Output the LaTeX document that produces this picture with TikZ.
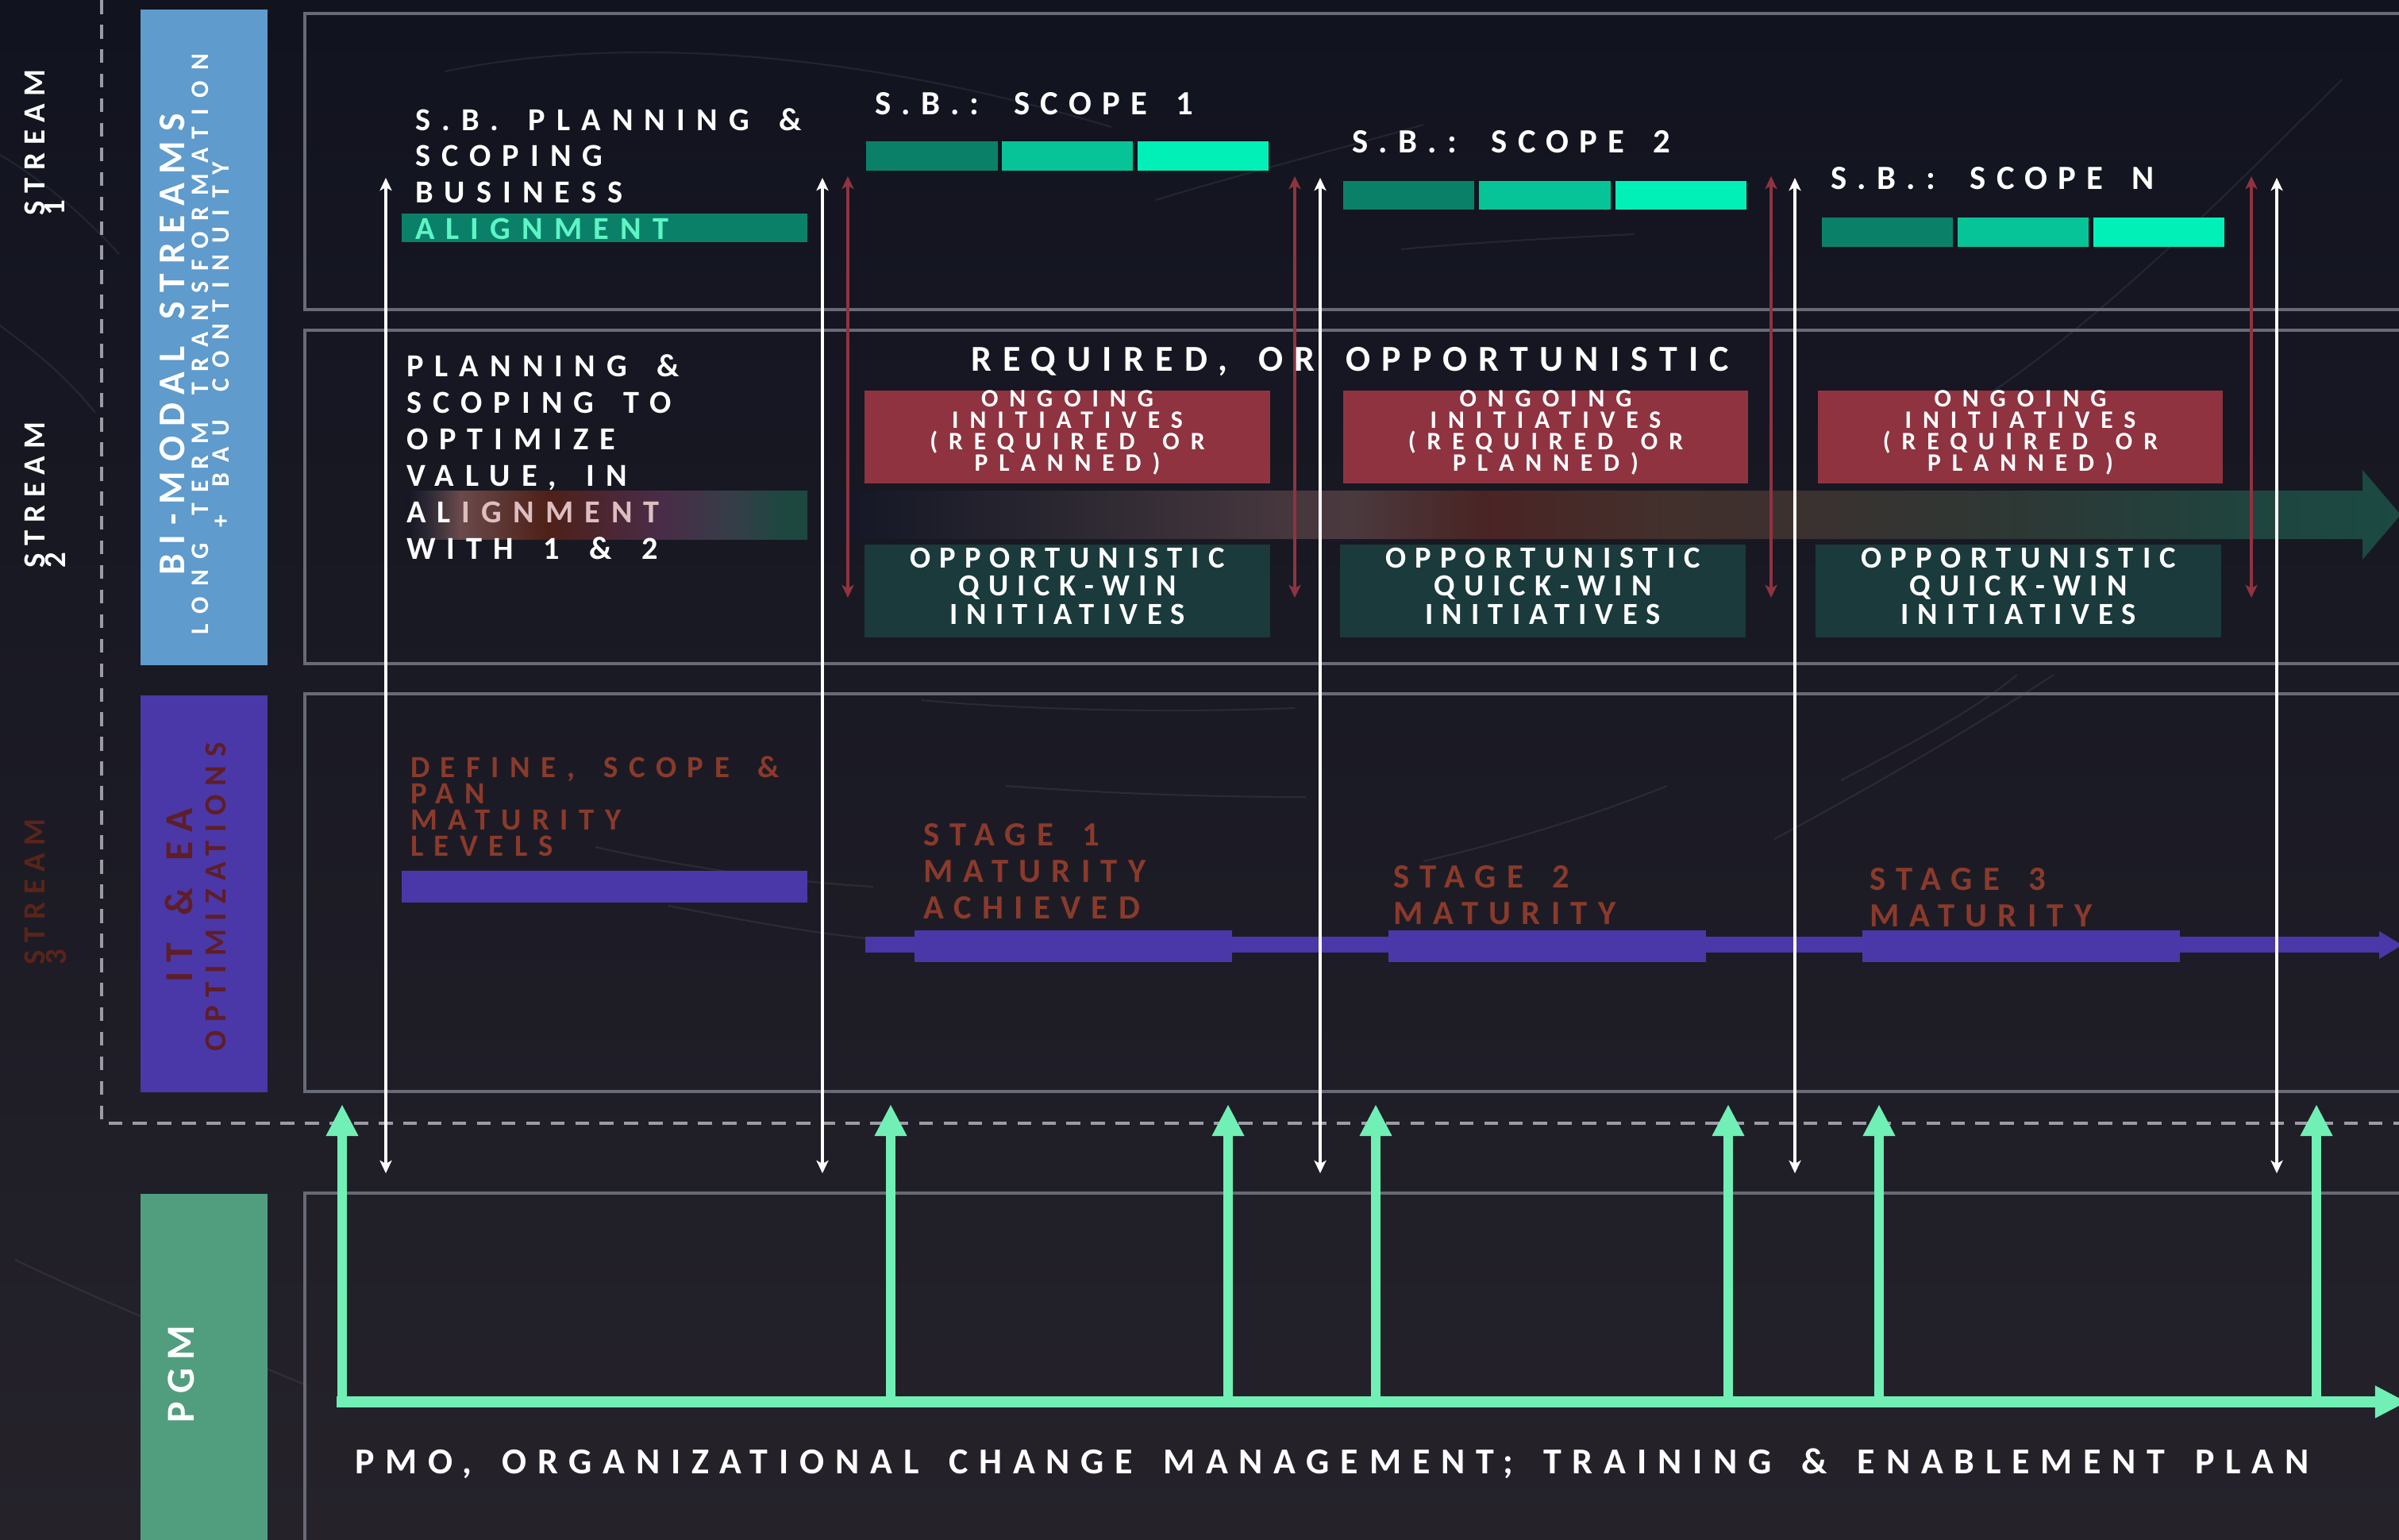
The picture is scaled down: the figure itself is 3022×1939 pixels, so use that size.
\documentclass[tikz,border=0pt]{standalone}
\usepackage{fontspec}
\setmainfont{Carlito}
\usetikzlibrary{arrows.meta}

% palette
\definecolor{bgtop}{HTML}{11131F}
\definecolor{bgmid}{HTML}{171925}
\definecolor{bgbot}{HTML}{25222A}
\definecolor{panelgray}{HTML}{686B75}
\definecolor{dashgray}{HTML}{9A9CA4}
\definecolor{bimodal}{HTML}{5F9BCC}
\definecolor{itea}{HTML}{4A38A8}
\definecolor{pgmgreen}{HTML}{519E7E}
\definecolor{iteatext}{HTML}{5E1E26}
\definecolor{rust}{HTML}{8A3A2B}
\definecolor{streamthree}{HTML}{5A2419}
\definecolor{ongred}{HTML}{8F3340}
\definecolor{oppteal}{HTML}{1A3A3B}
\definecolor{mint}{HTML}{70F0B4}
\definecolor{minttext}{HTML}{5EF5C5}
\definecolor{mauve}{HTML}{DDBEC0}
\definecolor{scopeA}{HTML}{0B8068}
\definecolor{scopeB}{HTML}{07C498}
\definecolor{scopeC}{HTML}{00F0B8}
\definecolor{purplebar}{HTML}{4A38A8}
% glow behind the stream-2 "alignment" word
\definecolor{gA0}{HTML}{141621}
\definecolor{gA1}{HTML}{2E2A36}
\definecolor{gA2}{HTML}{6A4A4A}
\definecolor{gA3}{HTML}{4E2018}
\definecolor{gA4}{HTML}{4A2C48}
\definecolor{gA5}{HTML}{363D48}
\definecolor{gA6}{HTML}{1C4840}
% flow arrow across stream 2
\definecolor{gB0}{HTML}{151726}
\definecolor{gB1}{HTML}{27252F}
\definecolor{gB2}{HTML}{45363D}
\definecolor{gB3}{HTML}{4A3A3E}
\definecolor{gB4}{HTML}{4A2424}
\definecolor{gB5}{HTML}{42302C}
\definecolor{gB6}{HTML}{3E302E}
\definecolor{gB7}{HTML}{2D3835}
\definecolor{gB8}{HTML}{1E4640}
\definecolor{gB9}{HTML}{1B4A42}

\pgfdeclarehorizontalshading{alignglow}{100bp}{%
  color(0bp)=(gA0); color(25bp)=(gA0); color(27.8bp)=(gA1);
  color(31.7bp)=(gA2); color(42.6bp)=(gA3); color(56.5bp)=(gA4);
  color(65.4bp)=(gA5); color(72.3bp)=(gA6); color(75bp)=(gA6);
  color(100bp)=(gA6)}
\pgfdeclarehorizontalshading{flowglow}{100bp}{%
  color(0bp)=(gB0); color(25bp)=(gB0); color(31.1bp)=(gB1);
  color(38.7bp)=(gB2); color(41.3bp)=(gB3); color(45.6bp)=(gB4);
  color(51.5bp)=(gB5); color(54.3bp)=(gB6); color(62.7bp)=(gB7);
  color(71.3bp)=(gB8); color(75bp)=(gB9); color(100bp)=(gB9)}

% tracking: letter spacing plus the same extra on word spaces
\newcommand\ls[1]{\addfontfeature{LetterSpace=#1}%
  \spaceskip=\dimexpr\fontdimen2\font+#1\fontdimen6\font/100\relax}
\newcommand\fsz[2]{\fontsize{#1}{#2}\selectfont}
% top-aligned block of lines: width, alignment, text
\newcommand\blk[3]{\parbox[t]{#1}{\selectfont\lineskiplimit=-50pt\relax#2#3}}

\begin{document}
\begin{tikzpicture}[x=0.01cm, y=-0.01cm,
  panel/.style={draw=panelgray, line width=0.9pt},
  griddash/.style={draw=dashgray, line width=0.9pt, dash pattern=on 5pt off 3.8pt},
  lbl/.style={inner sep=0pt, outer sep=0pt},
  wharrow/.style={draw=white, line width=1.2pt,
    {Stealth[length=4.6pt,width=4.3pt,inset=1.2pt]}-{Stealth[length=4.6pt,width=4.3pt,inset=1.2pt]}},
  rdarrow/.style={draw=ongred, line width=1.1pt,
    {Stealth[length=4.6pt,width=4.3pt,inset=1.2pt]}-{Stealth[length=4.6pt,width=4.3pt,inset=1.2pt]}},
  mintarrow/.style={draw=mint, line width=3.6pt, -{Triangle[length=11.4pt,width=10.8pt]}},
  streak/.style={draw=white, opacity=0.07, line width=0.6pt},
  headtext/.style={lbl, anchor=base west, font=\bfseries\fsz{11.47pt}{13.09pt}\ls{35}},
]
\useasboundingbox (0,0) rectangle (3022,1939);
\clip (0,0) rectangle (3022,1939);

% background
\shade[top color=bgtop, middle color=bgmid, bottom color=bgbot] (0,0) rectangle (3022,1939);
\draw[streak] (0,195) .. controls (50,225) and (100,265) .. (150,320);
\draw[streak] (0,410) .. controls (40,440) and (80,470) .. (120,520);
\draw[streak] (560,90) .. controls (800,40) and (1100,70) .. (1400,160);
\draw[streak] (1456,252) .. controls (1560,220) and (1680,190) .. (1793,157);
\draw[streak] (1765,314) .. controls (1860,305) and (1960,300) .. (2059,295);
\draw[streak] (1558,670) .. controls (1640,660) and (1720,650) .. (1780,643);
\draw[streak] (2319,983) .. controls (2400,940) and (2480,900) .. (2541,850);
\draw[streak] (2235,1057) .. controls (2360,990) and (2480,920) .. (2587,850);
\draw[streak] (750,1067) .. controls (850,1090) and (980,1110) .. (1100,1117);
\draw[streak] (842,1141) .. controls (940,1160) and (1020,1175) .. (1100,1183);
\draw[streak] (19,1587) .. controls (150,1650) and (280,1700) .. (383,1744);
\draw[streak] (1161,882) .. controls (1300,895) and (1480,898) .. (1631,892);
\draw[streak] (1267,990) .. controls (1400,1000) and (1530,1004) .. (1645,1004);
\draw[streak] (1793,1085) .. controls (1900,1060) and (2000,1030) .. (2100,990);
\draw[streak] (2500,500) .. controls (2650,400) and (2800,250) .. (2950,100);

% stream frame
\draw[griddash] (128,0) -- (128,1415) -- (3022,1415);

% lane panels
\draw[panel] (384,17) rectangle (3100,390);
\draw[panel] (384,416) rectangle (3100,836);
\draw[panel] (384,874) rectangle (3100,1375);
\draw[panel] (384,1503) rectangle (3100,2000);

% side captions
\fill[bimodal] (177,12) rectangle (337,838);
\fill[itea] (177,876) rectangle (337,1376);
\fill[pgmgreen] (177,1504) rectangle (337,1945);

\node[lbl, rotate=90, anchor=base west, text=white, font=\bfseries\fsz{11.03pt}{11pt}\ls{25}] (s1a) at (56,271) {STREAM};
\node[lbl, rotate=90, anchor=base west, text=white, font=\bfseries\fsz{11.03pt}{11pt}\ls{25}] (s1b) at (81,271) {1};
\node[lbl, rotate=90, anchor=base west, text=white, font=\bfseries\fsz{11.03pt}{11pt}\ls{25}] (s2a) at (56,715) {STREAM};
\node[lbl, rotate=90, anchor=base west, text=white, font=\bfseries\fsz{11.03pt}{11pt}\ls{25}] (s2b) at (82,715) {2};
\node[lbl, rotate=90, anchor=base west, text=streamthree, font=\bfseries\fsz{11.03pt}{11pt}\ls{25}] (s3a) at (56,1215) {STREAM};
\node[lbl, rotate=90, anchor=base west, text=streamthree, font=\bfseries\fsz{11.03pt}{11pt}\ls{25}] (s3b) at (83,1215) {3};

\node[lbl, rotate=90, anchor=base, text=white, font=\bfseries\fsz{13.5pt}{14pt}\ls{25}] (bm1) at (232,434) {BI-MODAL STREAMS};
\node[lbl, rotate=90, anchor=base, text=white, font=\bfseries\fsz{9pt}{10pt}\ls{43}] (bm2) at (262,434) {LONG TERM TRANSFORMATION};
\node[lbl, rotate=90, anchor=base, text=white, font=\bfseries\fsz{9pt}{10pt}\ls{44}] (bm3) at (288,434) {+ BAU CONTINUITY};

\node[lbl, rotate=90, anchor=base, text=iteatext, font=\bfseries\fsz{14.2pt}{15pt}\ls{23}] (it1) at (242,1128) {IT \& EA};
\node[lbl, rotate=90, anchor=base, text=iteatext, font=\bfseries\fsz{11.03pt}{12pt}\ls{28}] (it2) at (284,1130) {OPTIMIZATIONS};

\node[lbl, rotate=90, anchor=base, text=white, font=\bfseries\fsz{14.2pt}{15pt}\ls{20}] (pgm) at (244,1731) {PGM};

% ---- stream 1 : business scoping
\fill[scopeA] (506,269) rectangle (1017,305);
\node[headtext, text=white, font=\bfseries\fsz{11.47pt}{13.05pt}\ls{35}] (sbplan) at (523,164)
  {\blk{6cm}{\raggedright}{S.B. PLANNING \&\\SCOPING\\BUSINESS\\\textcolor{minttext}{ALIGNMENT}}};

\fill[scopeA] (1091,178) rectangle (1257,215);
\fill[scopeB] (1262,178) rectangle (1427,215);
\fill[scopeC] (1433,178) rectangle (1598,215);
\fill[scopeA] (1692,228) rectangle (1857,264);
\fill[scopeB] (1863,228) rectangle (2029,264);
\fill[scopeC] (2035,228) rectangle (2200,264);
\fill[scopeA] (2295,274) rectangle (2460,311);
\fill[scopeB] (2466,274) rectangle (2631,311);
\fill[scopeC] (2637,274) rectangle (2802,311);

\node[lbl, anchor=base west, text=white, font=\bfseries\fsz{12.15pt}{14pt}\ls{31}] (sc1) at (1102,144) {S.B.: SCOPE 1};
\node[lbl, anchor=base west, text=white, font=\bfseries\fsz{12.15pt}{14pt}\ls{31}] (sc2) at (1703,192) {S.B.: SCOPE 2};
\node[lbl, anchor=base west, text=white, font=\bfseries\fsz{12.15pt}{14pt}\ls{31}] (scn) at (2306,238) {S.B.: SCOPE N};

% ---- stream 2 : required or opportunistic initiatives
\shade[shading=alignglow] (512,618) rectangle (1017,679);
\shade[shading=flowglow] (1060,618) -- (2976,618) -- (2976,592) -- (3024,648.5)
  -- (2976,705) -- (2976,679) -- (1060,679) -- cycle;

\node[headtext, text=white] (optplan) at (512,474)
  {\blk{6cm}{\raggedright}{PLANNING \&\\SCOPING TO\\OPTIMIZE\\VALUE, IN\\\mbox{}\\WITH 1 \& 2}};
% the highlighted word: bright at its start, fading into the glow
\node[headtext, text=white] (optplanAL) at (512,658) {AL};
\node[headtext, text=mauve, xshift=4pt] (optplanIG) at (optplanAL.base east) {IGNMENT};

\foreach \i/\xa/\xb in {1/1089/1600, 2/1692/2202, 3/2290/2800}{
  \fill[ongred] (\xa,492) rectangle (\xb,609);
  \node[lbl, anchor=base, text=white, font=\bfseries\fsz{9pt}{7.68pt}\ls{44}] (ong\i) at ({(\xa+\xb)/2},512)
    {\blk{5cm}{\centering}{ONGOING\\INITIATIVES\\(REQUIRED OR\\PLANNED)}};
}
\foreach \i/\xa/\xb in {1/1089/1600, 2/1688/2199, 3/2287/2798}{
  \fill[oppteal] (\xa,686) rectangle (\xb,803);
  \node[lbl, anchor=base, text=white, font=\bfseries\fsz{10.98pt}{10.1pt}\ls{29}] (opp\i) at ({(\xa+\xb)/2},715)
    {\blk{5cm}{\centering}{OPPORTUNISTIC\\QUICK-WIN\\INITIATIVES}};
}

% ---- stream 3 : maturity track
\fill[purplebar] (506,1097) rectangle (1017,1137);
\fill[purplebar] (1090,1180) rectangle (2997,1200);
\fill[purplebar] (2997,1173) -- (3026,1190.5) -- (2997,1208) -- cycle;
\fill[purplebar] (1152,1172) rectangle (1552,1212);
\fill[purplebar] (1749,1172) rectangle (2149,1212);
\fill[purplebar] (2346,1172) rectangle (2746,1212);

\node[lbl, anchor=base west, text=rust, font=\bfseries\fsz{11.03pt}{9.39pt}\ls{35}] (define) at (517,979)
  {\blk{6cm}{\raggedright}{DEFINE, SCOPE \&\\PAN\\MATURITY\\LEVELS}};
\node[lbl, anchor=base west, text=rust, font=\bfseries\fsz{12.15pt}{13.2pt}\ls{31}] (stage1) at (1163,1065)
  {\blk{5cm}{\raggedright}{STAGE 1\\MATURITY\\ACHIEVED}};
\node[lbl, anchor=base west, text=rust, font=\bfseries\fsz{12.15pt}{13.2pt}\ls{31}] (stage2) at (1755,1118)
  {\blk{5cm}{\raggedright}{STAGE 2\\MATURITY}};
\node[lbl, anchor=base west, text=rust, font=\bfseries\fsz{12.15pt}{13.2pt}\ls{31}] (stage3) at (2355,1121)
  {\blk{5cm}{\raggedright}{STAGE 3\\MATURITY}};

% scope windows
\foreach \i/\x in {1/1068, 2/1631, 3/2231, 4/2836}{
  \coordinate (rt\i) at (\x,222);
  \coordinate (rb\i) at (\x,753);
  \draw[rdarrow] (rt\i) -- (rb\i);
}

\node[lbl, anchor=base west, text=white, font=\bfseries\fsz{13.06pt}{15pt}\ls{31}] (reqopp) at (1223,467) {REQUIRED, OR OPPORTUNISTIC};

% phase boundaries
\foreach \i/\x in {1/486, 2/1036, 3/1663, 4/2261, 5/2868}{
  \coordinate (wt\i) at (\x,224);
  \coordinate (wb\i) at (\x,1478);
  \draw[wharrow] (wt\i) -- (wb\i);
}

% ---- PGM : programme support feeding every phase
\coordinate (pgmstart) at (424,1766);
\coordinate (pgmend) at (3032,1766);
\draw[mintarrow, line width=4pt] (pgmstart) -- (pgmend);
\foreach \i/\x in {1/431, 2/1122, 3/1547, 4/1733, 5/2177, 6/2367, 7/2918}{
  \coordinate (gb\i) at (\x,1773);
  \coordinate (gt\i) at (\x,1391);
  \draw[mintarrow] (gb\i) -- (gt\i);
}

\node[lbl, anchor=base west, text=white, font=\bfseries\fsz{13.06pt}{15pt}\ls{30}] (pmo) at (447,1856)
  {PMO, ORGANIZATIONAL CHANGE MANAGEMENT; TRAINING \& ENABLEMENT PLAN};

\end{tikzpicture}
\end{document}
